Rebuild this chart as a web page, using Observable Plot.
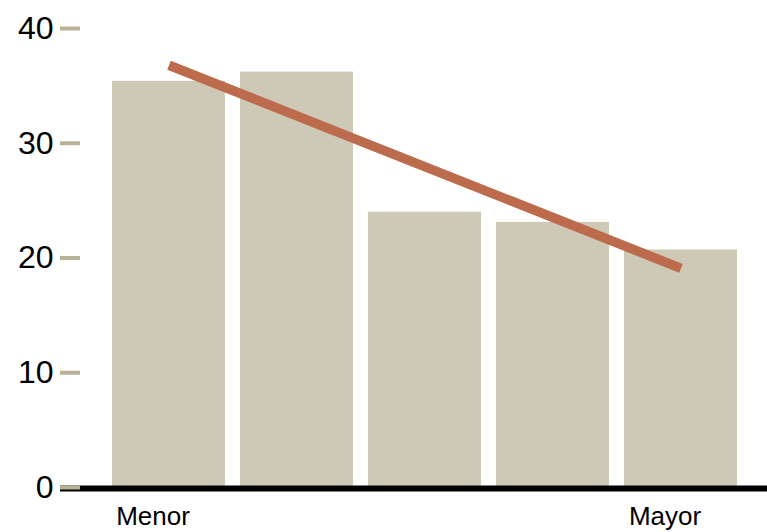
<!DOCTYPE html>
<html>
<head>
<meta charset="utf-8">
<script src="https://cdn.jsdelivr.net/npm/d3@7"></script>
<script src="https://cdn.jsdelivr.net/npm/@observablehq/plot@0.6"></script>
<style>
  html, body { margin: 0; padding: 0; background: #fff; }
</style>
</head>
<body>
<div id="chart"></div>
<script>
const categories = ["c1", "c2", "c3", "c4", "c5"];
const categoryLabels = ["Menor", "", "", "", "Mayor"];
const values = [35.4, 36.2, 24.0, 23.1, 20.7];
const trendCategories = ["c1", "c5"];
const trendValues = [36.8, 19.1];
const yTicks = [0, 10, 20, 30, 40];

const bars = categories.map((c, i) => ({ cat: c, value: values[i] }));
const trend = trendCategories.map((c, i) => ({ cat: c, value: trendValues[i] }));
const labelOf = new Map(categories.map((c, i) => [c, categoryLabels[i]]));

const chart = Plot.plot({
  width: 767,
  height: 532,
  marginLeft: 60,
  marginRight: 0,
  marginTop: 28,
  marginBottom: 45,
  insetLeft: 51,
  insetRight: 28,
  style: { fontFamily: "Liberation Sans, Arial, sans-serif", color: "#000", background: "#fff" },
  x: { domain: categories, paddingInner: 0.116, paddingOuter: 0, axis: null },
  y: { domain: [0, 40], axis: null },
  marks: [
    Plot.barY(bars, { x: "cat", y: "value", fill: "#CEC8B6" }),
    Plot.ruleY([0], { stroke: "#000", strokeWidth: 6, dy: 1 }),
    Plot.line(trend, { x: "cat", y: "value", stroke: "#BC6B4D", strokeWidth: 9.5, strokeLinecap: "butt" }),
    Plot.axisY({
      ticks: yTicks,
      tickSize: 20,
      tickPadding: 7,
      dx: 20,
      stroke: "#B8B296",
      strokeWidth: 4,
      strokeOpacity: 1,
      fontSize: 32,
      fill: "#000",
      label: null
    }),
    Plot.axisX({
      tickSize: 0,
      tickPadding: 19,
      dx: -16,
      fontSize: 26,
      fill: "#000",
      tickFormat: (d) => labelOf.get(d),
      label: null
    })
  ]
});

document.getElementById("chart").appendChild(chart);
</script>
</body>
</html>
